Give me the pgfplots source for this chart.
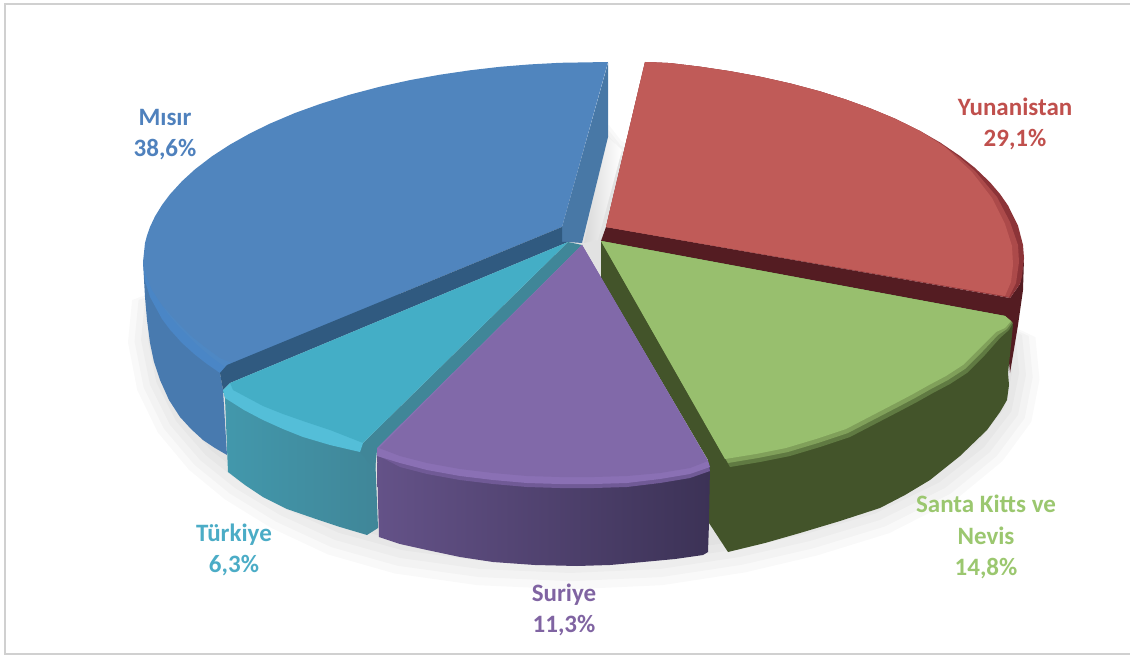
\documentclass[border=0pt]{standalone}
\usepackage{fontspec}
\setmainfont{Carlito}
\usepackage{pgfplots}
\usepackage{pgfplotstable}
\pgfplotsset{compat=1.18}
\definecolor{bluetop}{RGB}{80,133,190}
\definecolor{bluemid}{RGB}{78,136,196}
\definecolor{bluerim}{RGB}{74,134,198}
\definecolor{blueside}{RGB}{72,122,175}
\definecolor{bluewall}{RGB}{72,120,166}
\definecolor{bluedark}{RGB}{48,90,128}
\definecolor{redtop}{RGB}{192,91,88}
\definecolor{redmid}{RGB}{172,74,74}
\definecolor{redrim}{RGB}{140,52,56}
\definecolor{reddark}{RGB}{84,28,34}
\definecolor{greentop}{RGB}{152,191,110}
\definecolor{greenmid}{RGB}{128,160,90}
\definecolor{greenrim}{RGB}{96,122,66}
\definecolor{greendark}{RGB}{67,84,42}
\definecolor{purpletop}{RGB}{129,105,169}
\definecolor{purplerim}{RGB}{138,112,180}
\definecolor{purplemid}{RGB}{112,90,150}
\definecolor{purpleL}{RGB}{100,82,136}
\definecolor{purpleR}{RGB}{60,50,86}
\definecolor{turqtop}{RGB}{68,174,198}
\definecolor{turqrim}{RGB}{84,190,216}
\definecolor{turqL}{RGB}{66,152,172}
\definecolor{turqR}{RGB}{64,134,152}
\definecolor{framegray}{RGB}{208,208,208}
\definecolor{lblblue}{RGB}{79,129,189}
\definecolor{lblred}{RGB}{192,80,77}
\definecolor{lblgreen}{RGB}{155,199,111}
\definecolor{lblpurple}{RGB}{128,100,162}
\definecolor{lblturq}{RGB}{75,172,198}

\pgfplotstableread{
x y
145 300
141 340
150 385
170 425
200 460
235 488
280 515
335 540
400 558
480 569
570 573
660 569
740 557
810 541
880 520
945 488
990 452
1018 415
1026 375
1022 335
620 150
608 135
}\shadowpts

\tikzset{face/.style={draw=none,fill=#1}}
\newcommand{\lbl}[4]{\node[text=#3,align=center,font=\fontsize{25}{31.5}\selectfont\bfseries] at (axis cs:#1,#2) {#4};}

\begin{document}
\begin{tikzpicture}
\begin{axis}[
    scale only axis,
    width=1130pt,
    height=655pt,
    xmin=0, xmax=1130,
    ymin=0, ymax=655,
    y dir=reverse,
    hide axis,
]
% keeps the page as large as the axis
\addplot[draw=none] coordinates {(0,0) (1130,655)};
% frame, open on the right
\addplot[framegray,line width=2.5pt] coordinates {(1130,4) (5,4) (5,654) (1130,654)};

% soft shadow under the pie
\addplot[face=black,fill opacity=0.022] table[x expr=575+(\thisrow{x}-575)*1.03,y expr=300+(\thisrow{y}-300)*1.06] {\shadowpts} -- cycle;
\addplot[face=black,fill opacity=0.022] table[x expr=575+(\thisrow{x}-575)*1.015,y expr=300+(\thisrow{y}-300)*1.03] {\shadowpts} -- cycle;
\addplot[face=black,fill opacity=0.022] table[x=x,y=y] {\shadowpts} -- cycle;
\addplot[face=black,fill opacity=0.022] table[x expr=575+(\thisrow{x}-575)*0.985,y expr=300+(\thisrow{y}-300)*0.97] {\shadowpts} -- cycle;
\addplot[face=black,fill opacity=0.022] table[x expr=575+(\thisrow{x}-575)*0.97,y expr=300+(\thisrow{y}-300)*0.94] {\shadowpts} -- cycle;
\addplot[draw=none,left color=gray!30,right color=white] coordinates {(608,137) (622,150) (598,240) (584,243)} -- cycle;

% Yunanistan
\addplot[face=reddark] coordinates {(606,227) (1010,298) (1020,284) (1024,258) (1023,290) (1018,325) (1010,373) (1005,316) (601,241)} -- cycle;
\addplot[face=redrim] coordinates {(645,62) (670,63.1) (700,66.7) (730,71.2) (760,76.7) (790,83.4) (820,91.4) (845,99.3) (870,108.3) (895,118.7) (920,131) (940,142.4) (960,156) (975,167.9) (990,182.3) (1000,194) (1008,205.5) (1018,225.7) (1023,245) (1024,258) (1022,276.8) (1020,284) (1010,298) (606,227)} -- cycle;
\addplot[face=redmid] coordinates {(645,62) (670,63.1) (700,66.7) (730,71.2) (760,76.7) (790,83.4) (820,91.4) (845,99.3) (870,108.3) (895,118.7) (920,131) (940,143) (960,158) (975,171) (997,197) (1010,222) (1018,245) (1019,262) (1016,283) (1009,297) (606,227)} -- cycle;
\addplot[face=redtop] coordinates {(645,62) (670,63.1) (700,66.7) (730,71.2) (760,76.7) (790,83.4) (820,91.4) (845,99.3) (870,108.3) (895,118.7) (920,131) (945,147) (972,172) (992,198) (1005,224) (1012,246) (1013,265) (1011,282) (1005,296) (606,227)} -- cycle;

% Misir
\addplot[face=blueside] coordinates {(143,262) (145,297) (147,320) (150,343) (154,362) (160,380) (169,400) (180,417) (191,429) (203,440) (215,448) (227,455) (223,390) (220,373) (300,340) (170,300)} -- cycle;
\addplot[face=bluewall] coordinates {(608,63) (608,137) (582,243) (568,242) (562,242) (562,227)} -- cycle;
\addplot[face=bluerim] coordinates {(143,262) (145,281) (150,297) (162,319) (170,329.7) (182,343) (195,354.7) (207,364) (220,373) (227,365) (400,294) (200,200)} -- cycle;
\addplot[face=bluemid] coordinates {(143,262) (148,280) (156,296) (168,314) (180,328) (195,343) (210,356) (225,367) (400,294) (200,200)} -- cycle;
\addplot[face=bluetop] coordinates {(608,62) (560,62.8) (530,64.4) (500,66.8) (470,70.3) (440,74.7) (410,80.1) (380,86.7) (350,94.6) (320,104) (295,113) (270,123.6) (250,133.4) (230,144.6) (212,156.3) (195,169.3) (182,181.2) (170,194.3) (162,205) (155,216.4) (150,227) (147,235.5) (145,243) (143,262) (146,275) (152,290) (162,305) (178,323) (190,335) (205,347) (220,358) (232,363) (562,227)} -- cycle;
\addplot[face=bluedark] coordinates {(562,227) (227,365) (220,373) (223,390) (230,383) (568,242) (562,242)} -- cycle;

% Turkiye
\addplot[draw=none,left color=turqL,right color=turqR] coordinates {(223,390) (225,398) (228,472) (245,485) (263,497) (287,509) (313,518) (340,527) (367,535) (378,528) (375,453) (363,443)} -- cycle;
\addplot[face=turqR] coordinates {(568,242) (582,245) (570,257) (377,450) (375,470) (360,452) (363,443)} -- cycle;
\addplot[face=turqrim] coordinates {(230,383) (223,390) (225,398) (244,410) (263,420) (283,429) (303,437) (330,445) (360,452) (363,443) (340,425)} -- cycle;
\addplot[face=turqtop] coordinates {(568,242) (230,383) (233,390) (248,398) (263,406) (283,414) (303,421) (330,430) (358,441) (363,443)} -- cycle;

% Santa Kitts ve Nevis
\addplot[face=greendark] coordinates {(601,241) (601,278) (708,460) (709,523) (728,552) (765,543) (800,533) (840,521) (880,508) (905,495) (930,480) (960,456) (987,430) (1000,412) (1007,400) (1009,385) (1008,373) (1011,345) (1013,325) (1005,316)} -- cycle;
\addplot[face=greenrim] coordinates {(601,241) (1005,316) (1013,323) (1009,330) (1000,338) (985,355) (967,373) (950,384) (933,393) (917,402) (900,411) (875,424) (850,437) (820,447) (790,456) (760,462) (730,467)} -- cycle;
\addplot[face=greenmid] coordinates {(601,241) (1005,316) (1012,322) (1007,329) (998,335) (983,351) (965,369) (948,380) (931,389) (915,398) (898,407) (873,420) (848,433) (818,443) (788,452) (758,458) (728,463)} -- cycle;
\addplot[face=greentop] coordinates {(601,241) (1005,316) (1011,321) (1005,328) (996,332) (981,347) (963,365) (946,376) (929,385) (913,394) (896,403) (871,416) (846,429) (816,439) (786,448) (756,454) (725,459)} -- cycle;

% Suriye
\addplot[draw=none,left color=purpleL,right color=purpleR] coordinates {(377,450) (378,500) (379,537) (400,544) (427,550) (460,557) (493,562) (535,565) (577,566) (610,565) (643,562) (675,559) (703,555) (708,552) (709,523) (710,465) (560,470)} -- cycle;
\addplot[face=purplemid] coordinates {(377,455) (400,467) (427,474) (460,480) (493,484) (527,487) (560,488) (594,488) (627,487) (660,483) (690,478) (710,471) (708,461) (582,245)} -- cycle;
\addplot[face=purplerim] coordinates {(582,245) (377,448) (377,456) (400,463) (427,470) (460,476) (493,480) (527,483) (560,484) (594,484) (627,483) (660,479) (690,474) (710,467) (708,461)} -- cycle;
\addplot[face=purpletop] coordinates {(582,245) (379,448) (400,456) (427,463) (460,469) (493,473) (527,476) (560,477) (594,477) (627,476) (660,473) (690,468) (708,461)} -- cycle;

% labels
\lbl{165}{134.5}{lblblue}{Mısır\\38,6\%}
\lbl{1015}{124}{lblred}{Yunanistan\\29,1\%}
\lbl{986}{537}{lblgreen}{Santa Kitts ve\\Nevis\\14,8\%}
\lbl{564}{610}{lblpurple}{Suriye\\11,3\%}
\lbl{234}{550}{lblturq}{Türkiye\\6,3\%}
\end{axis}
\end{tikzpicture}
\end{document}
